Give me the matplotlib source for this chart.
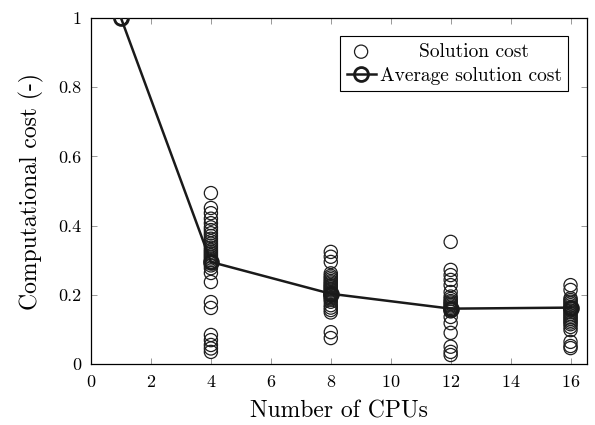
import numpy as np
import matplotlib
matplotlib.use("Agg")
import matplotlib.pyplot as plt

plt.rcParams["font.family"] = ["cmr10", "DejaVu Serif"]
plt.rcParams["mathtext.fontset"] = "cm"
plt.rcParams["axes.unicode_minus"] = False
plt.rcParams["axes.formatter.use_mathtext"] = True

# solution cost per run, grouped by CPU count
cpus = [1, 4, 8, 12, 16]
cost_1 = [1.0]
cost_4 = [0.494, 0.451, 0.436, 0.42, 0.407, 0.395, 0.387, 0.378, 0.37, 0.362,
          0.355, 0.348, 0.342, 0.336, 0.33, 0.325, 0.32, 0.315, 0.31, 0.305,
          0.30, 0.295, 0.285, 0.277, 0.263, 0.237, 0.179, 0.162, 0.084, 0.069,
          0.055, 0.045, 0.035]
cost_8 = [0.324, 0.31, 0.295, 0.262, 0.255, 0.25, 0.245, 0.24, 0.236, 0.232,
          0.228, 0.225, 0.222, 0.218, 0.215, 0.212, 0.208, 0.205, 0.202, 0.2,
          0.197, 0.193, 0.19, 0.186, 0.18, 0.17, 0.163, 0.156, 0.149, 0.092,
          0.075]
cost_12 = [0.353, 0.272, 0.257, 0.243, 0.228, 0.208, 0.195, 0.188, 0.182,
           0.178, 0.174, 0.17, 0.166, 0.162, 0.158, 0.152, 0.136, 0.118, 0.09,
           0.05, 0.035, 0.026]
cost_16 = [0.228, 0.214, 0.19, 0.185, 0.18, 0.175, 0.17, 0.165, 0.16, 0.155,
           0.15, 0.145, 0.14, 0.135, 0.13, 0.125, 0.12, 0.115, 0.107, 0.098,
           0.064, 0.052, 0.046]
avg_cost = [1.0, 0.295, 0.203, 0.16, 0.163]

groups = [cost_1, cost_4, cost_8, cost_12, cost_16]

fig = plt.figure(figsize=(5.95, 4.25), dpi=100)
ax = fig.add_axes([0.153, 0.1435, 0.8336, 0.8141])

first = True
for c, vals in zip(cpus, groups):
    # leading spaces roughly centre the shorter legend entry, as in the original
    ax.scatter([c] * len(vals), vals, s=90, facecolors="none", edgecolors="#1e1e1e",
               linewidths=0.9, label="      Solution cost" if first else None, zorder=2)
    first = False

ax.plot(cpus, avg_cost, color="#1a1a1a", lw=1.8, marker="o", ms=10, mfc="none",
        mew=2.0, label="Average solution cost", zorder=3)

ax.set_xlim(0, 16.55)
ax.set_ylim(0, 1)
ax.set_xticks(np.arange(0, 17, 2))
ax.set_yticks([0, 0.2, 0.4, 0.6, 0.8, 1])
ax.set_yticklabels(["0", "0.2", "0.4", "0.6", "0.8", "1"])
ax.tick_params(direction="in", top=True, right=True, labelsize=13, length=4,
               width=0.6, color="#888888", pad=7)
for sp in ax.spines.values():
    sp.set_linewidth(0.9)
ax.set_xlabel("Number of CPUs", fontsize=17, labelpad=8)
ax.set_ylabel("Computational cost (-)", fontsize=17, labelpad=10)

leg = ax.legend(loc="upper right", fontsize=14, fancybox=False, framealpha=1,
                edgecolor="black", handlelength=1.5, borderpad=0.35,
                handletextpad=0.2, labelspacing=0.3, bbox_to_anchor=(0.982, 0.976))
leg.get_frame().set_linewidth(0.8)

fig.savefig("out.png", dpi=100)
